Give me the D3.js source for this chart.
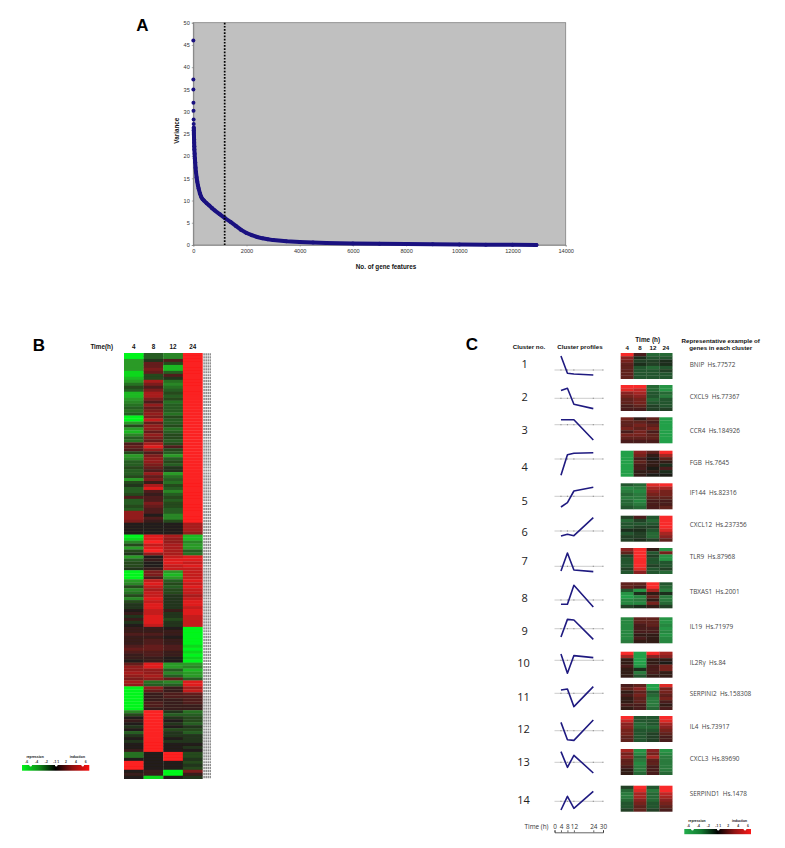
<!DOCTYPE html>
<html><head><meta charset="utf-8">
<style>html,body{margin:0;padding:0;background:#fff}svg{display:block}text{font-family:"Liberation Sans",Arial,sans-serif}</style>
<script src="https://cdn.jsdelivr.net/npm/d3@7/dist/d3.min.js"></script></head>
<body><svg id="c" width="785" height="848"></svg>
<script>
// Panel A
const geneRank=[1,2,3,5,8,12,15,18,20,22,25,28,32,36,40,50,60,70,85,100,125,150,175,200,250,300,350,400,500,600,700,800,1000,1200,1400,1600,1800,2000,2200,2400,2600,2800,3000,3500,4000,4500,5000,6000,7000,8000,9000,10000,11000,12000,12900];
const geneVariance=[46,37.2,35,32,30.2,28.2,27.2,26.4,25.8,25.2,24.5,23.8,23,22.2,21.5,20.5,19.5,18.6,17.4,16.4,15.2,14.2,13.4,12.7,11.6,10.8,10.3,10,9.4,8.9,8.3,7.8,6.9,6,5.2,4.3,3.4,2.7,2.2,1.8,1.5,1.3,1.1,.85,.7,.55,.45,.35,.28,.2,.15,.1,.06,.03,0];
const xTicksA=[0,2000,4000,6000,8000,10000,12000,14000];
const yTicksA=[0,5,10,15,20,25,30,35,40,45,50];
const cutoffRank=1180;
// Panel B
const timeLabels=["4","8","12","24"];
const hour4=[-9,-9,-6,-6,-6,-6,-8,-8,-7,-6,-4,-2,-3,-7,-7,-6,-5,-4,-3,-4,-3,-9,-9,-6,-2,-6,-7,-5,-3,-4,2,3,2,-2,-6,-5,-3,-3,-2,-3,-3,-2,-6,-2,-1,-3,-3,-2,2,-3,-3,-2,-3,
5,5,5,4, 0,0,0,0, -9,-8,-5,-2,-6,-2,-1, -6,-3,-2,-2,-1, -9,-9,-9,
-6,-5,-2,-5,-4,-2,-5,-2,-1,-1,0,1,-1,1,-1,0, 1,1,2,1,1,1,2,3,2,1,1,0, 3,5,5,6,5,4, 6,5,
-9,-9,-9,-9,-9,-9,-9,-9, -5,-2,0,1,0,-1,0,-3,-1,0,-1,0,0,1, -4,-4,0, 9,9,9, 0,1, 0];
const hour8=[-3,-3,-1,3,3,4,3,-2,-2,6,4,2,4,6,6,4,2,5,3,4,5,4,7,3,5,5,3,5,4,3,6,8,5,2,4,5,5,4,3,2,5,3,4,1,6,8,2,1,2,2,4,3,2,
2,0,2,1, 0,0,0,0, 8,8,9,7,8,9,5, 0,1,0,0,1, 4,4,2,
7,8,7,6,7,7,8,7,8,8,7,7,8,8,8,7, 1,1,2,1,2,2,3,3,2,2,1,1, 8,8,5,5,6,5, -4,-3,
5,3,1,1,1,2,2,1, 9,9,9,9,9,9,9,9,9,9,9,9,9,9, 0,0,0, 0,0,0, 1,1, -8];
const hour12=[-5,-5,2,-2,-7,-7,-3,2,-1,-4,-5,-4,-3,-2,-3,-2,-4,-3,-3,-3,-4,-2,-3,-3,-2,-4,-3,-2,-2,-3,-2,2,-2,-3,-6,-3,-2,-3,-1,-1,-6,-4,-3,-4,-2,-3,-5,-3,-2,-3,-2,-2,-3,
-3,-5,-5,-2, 0,0,0,0, 6,5,5,6,6,6,6, 7,8,8,7,7, -6,-7,-6,
-3,-2,-3,-2,-2,-1,-1,-1,-1,-1,1,-1,-1,-2,-1,-1, 0,1,1,0,1,1,2,2,1,1,0,0, -6,-6,-3,-5,-3,3, -5,-3,
1,1,2,2,1,1,1,1, -1,-3,-1,0,-1,0,-2,-1,-1,0,-1,0,0,0, 9,9,9, 0,0,0, -9,-9, 0];
const hour24=[9,9,9,9,9,9,9,9,9,9,9,9,9,9,9,9,9,9,9,9,9,9,9,9,9,9,9,9,9,9,9,9,9,9,9,9,9,9,9,9,9,9,9,9,9,9,9,9,9,9,9,9,9,
9,9,9,9, 6,6,6,5, -7,-7,-5,-6,-6,-3,-4, 8,8,7,8,7, 7,7,7,
8,7,8,7,7,6,7,8,8,7,8,8,7,7,7,7, -9,-9,-9,-9,-9,-9,-8,-9,-8,-9,-8,-9, -6,-5,-7,-6,-6,-3, 8,8,
6,7,3,2,2,2,1,1, -4,-3,-2,-2,-3,-1,-2,-3,-1,-1,-1,0,-1,0, -2,-2,-1, -2,-1,-2, 4,1, -1];
// Panel C
const clusterNumbers=[1,2,3,4,5,6,7,8,9,10,11,12,13,14];
const clusterGenes=["BNIP  Hs.77572","CXCL9  Hs.77367","CCR4  Hs.184926","FGB  Hs.7645","IF144  Hs.82316","CXCL12  Hs.237356","TLR9  Hs.87968","TBXAS1  Hs.2001","IL19  Hs.71979","IL2R\u03b3  Hs.84","SERPINI2  Hs.158308","IL4  Hs.73917","CXCL3  Hs.89690","SERPIND1  Hs.1478"];
const profileTimes=[4,8,12,24];
const axisTimes=[0,4,8,12,24,30];
const clusterProfiles=[[1.4,-.33,-.4,-.5],[.77,1,-.6,-1.03],[.5,.5,.5,-1.53],[-1.63,.43,.57,.63],[-1.07,-.63,.53,.9],[-.5,-.33,-.47,1.33],[-.47,1.33,-.37,-.53],[-.43,-.43,1.47,-.7],[-.83,.93,.87,-1.07],[.63,-1.3,.47,.27],[.33,.43,-1.33,.67],[.83,-.9,-.97,1.07],[1.07,-.5,.7,-1.07],[-.87,.5,-.7,1]];
const clusterHeat=[
[[9,5,4,3,3,3,3,3],[2,-1,-2,-1,-3,-3,-3,-3],[-4,-3,-2,-2,-4,-3,-3,-3],[-4,-3,-1,-1,-3,-2,-3,-3]],
[[9,8,5,4,3,3,2,2],[9,7,6,5,4,4,3,2],[-4,-4,-3,-3,-4,-3,-2,-2],[-7,-7,-4,-5,-3,-3,-3,-2]],
[[4,3,3,4,2,4,3,2],[1,3,4,3,4,4,3,2],[3,2,3,4,2,3,3,2],[-8,-8,-8,-8,-8,-8,-8,-8]],
[[-8,-8,-8,-8,-8,-8,-8,-8],[5,4,2,3,2,2,1,1],[3,1,0,1,1,0,1,0],[9,6,3,1,-1,2,-1,0]],
[[-3,-6,-5,-4,-5,-4,-4,-3],[-4,-5,-6,-5,-5,-6,-5,-4],[8,6,5,4,3,2,2,2],[9,6,4,4,3,2,2,3]],
[[-2,-4,-3,-3,-1,-3,-2,-2],[2,-2,-3,-2,-1,-2,-2,-1],[-3,-4,-3,-2,-3,-4,-4,-2],[9,9,9,9,8,6,5,3]],
[[5,3,-2,-3,-3,-3,-2,-3],[9,9,9,9,9,9,8,5],[1,-3,-2,-3,-3,-2,-3,-3],[-7,4,-7,-7,-3,-3,-2,-4]],
[[3,3,-3,-7,-8,-6,-6,-2],[3,2,-7,-1,-6,-5,-6,-1],[9,9,6,1,3,1,4,1],[-3,-4,-5,-1,-5,-5,-4,-2]],
[[-6,-6,-6,-6,-6,-6,-6,-5],[3,3,2,2,2,1,2,1],[3,3,3,2,2,1,1,1],[-7,-7,-6,-7,-6,-7,-6,-6]],
[[9,6,1,1,2,1,1,1],[-8,-8,-8,-8,-7,-1,-5,-3],[9,5,1,1,2,2,2,1],[6,5,1,0,4,4,1,1]],
[[2,3,1,2,1,1,2,1],[3,5,3,4,3,3,2,2],[-8,-8,-3,-4,-5,-5,-5,-4],[8,4,4,3,4,2,1,2]],
[[9,7,5,5,4,4,3,3],[-3,-3,-4,-4,-3,-3,-3,-3],[-3,-3,-3,-4,-3,-2,-2,-2],[9,8,6,5,4,3,2,2]],
[[6,4,5,3,3,2,1,1],[-7,-6,-4,-5,-6,-5,-5,-4],[5,4,6,3,3,2,2,2],[-7,-6,-5,-5,-5,-5,-5,-4]],
[[-2,-4,-5,-5,-4,-3,-3,-2],[9,8,6,6,5,4,3,3],[-3,-5,-4,-4,-4,-3,-3,-2],[9,9,7,6,5,4,3,2]]];
const legendTicks=[-6,-4,-2,0,2,4,6];
const legendTickLabels=["-6","-4","-2","-1 1","2","4","6"];

// Layout
const numberY=[363,396,429,466,500,531,560,597,630,662,696,728,761,799];
const baselineY=[370,398.3,424.7,459,496.3,531,566.3,600,628.7,660.3,693.3,730.7,762.3,801.3];
const heatTop=[353,385,417.3,450.7,483.3,515.7,548,582.3,617.3,651.7,684,716,749,785.7];
const labelY=[364.3,396.3,430,462.7,492.3,524.3,556.7,591.7,626.3,662.3,693.3,726,758.3,793.3];

const svg=d3.select("#c");
const defs=svg.append("defs");
defs.append("filter").attr("id","soft").attr("x","-5%").attr("y","-5%").attr("width","110%").attr("height","110%")
  .append("feGaussianBlur").attr("stdDeviation",0.5);
const txt=(x,y,s,size,opt={})=>svg.append("text").attr("x",x).attr("y",y).attr("font-size",size)
  .attr("text-anchor",opt.anchor||"middle").attr("dominant-baseline","central")
  .attr("font-weight",opt.bold?"bold":"normal").attr("fill",opt.fill||"#111")
  .style("font-family",opt.font||null).attr("transform",opt.rot?`rotate(${opt.rot} ${x} ${y})`:null).text(s);

txt(142.5,25,"A",17,{bold:true,fill:"#000"});
txt(39,345,"B",17,{bold:true,fill:"#000"});
txt(472,344,"C",17,{bold:true,fill:"#000"});

// ---- A
const xA=d3.scaleLinear().domain([0,14000]).range([193.3,565.7]);
const yA=d3.scaleLinear().domain([0,50]).range([245,22.7]);
svg.append("rect").attr("x",xA(0)).attr("y",yA(50)).attr("width",xA(14000)-xA(0)).attr("height",yA(0)-yA(50))
  .attr("fill","#c0c0c0").attr("stroke","#808080").attr("stroke-width",0.8);
const gy=svg.append("g").attr("transform",`translate(${xA(0)},0)`).call(d3.axisLeft(yA).tickValues(yTicksA).tickSize(1.5).tickPadding(2));
const gx=svg.append("g").attr("transform",`translate(0,${yA(0)})`).call(d3.axisBottom(xA).tickValues(xTicksA).tickSize(1.5).tickPadding(3).tickFormat(d3.format("d")));
[gx,gy].forEach(g=>{g.selectAll("text").attr("font-size",5.6).attr("fill","#333");g.selectAll("line,path").attr("stroke","#777").attr("stroke-width",.6);g.attr("font-family",null)});
const pts=geneRank.map((r,i)=>[r,geneVariance[i]]);
svg.append("path").attr("d",d3.line().x(d=>xA(d[0])).y(d=>yA(d[1]))(pts.filter(d=>d[0]>=18)))
  .attr("fill","none").attr("stroke","#1a1180").attr("stroke-width",4).attr("stroke-linejoin","round").attr("stroke-linecap","round");
svg.selectAll("circle.p").data(pts).join("circle").attr("class","p").attr("cx",d=>xA(d[0])).attr("cy",d=>yA(d[1])).attr("r",2).attr("fill","#1a1180");
svg.append("line").attr("x1",xA(cutoffRank)).attr("x2",xA(cutoffRank)).attr("y1",yA(50)).attr("y2",yA(0))
  .attr("stroke","#000").attr("stroke-width",1.7).attr("stroke-dasharray","1.7 1.5");
txt(386,266,"No. of gene features",6.3,{bold:true});
txt(176.7,130.7,"Variance",6.3,{bold:true,rot:-90});

// ---- B
const colsB=[hour4,hour8,hour12,hour24];
const bandCol=d3.scaleBand().domain(timeLabels).range([124,202.5]);
const bandRow=d3.scaleBand().domain(d3.range(hour4.length)).range([353,778.7]);
const colorB=d3.scaleLinear().domain([-9,-6,0,6,9]).range(["#00f51a","#2a9a28","#221f1a","#a81e1c","#fb2020"]);
const gB=svg.append("g").attr("filter","url(#soft)");
colsB.forEach((col,ci)=>gB.selectAll(null).data(col).join("rect")
  .attr("x",bandCol(timeLabels[ci])).attr("y",(d,i)=>bandRow(i)).attr("width",bandCol.bandwidth()+.2).attr("height",bandRow.bandwidth()+.3)
  .attr("fill",d=>colorB(d)));
svg.append("g").selectAll("line").data(d3.range(hour4.length)).join("line")
  .attr("x1",203.3).attr("x2",211).attr("y1",i=>bandRow(i)+1.4).attr("y2",i=>bandRow(i)+1.4)
  .attr("stroke","#8f8f8f").attr("stroke-width",2.2).attr("stroke-dasharray","1.6 .5");
txt(101.7,346,"Time(h)",6.3,{bold:true});
timeLabels.forEach(t=>txt(bandCol(t)+bandCol.bandwidth()/2,346.3,t,6.3,{bold:true}));

// ---- C
txt(529,346.7,"Cluster no.",6.2,{bold:true});
txt(580,346.7,"Cluster profiles",6.2,{bold:true});
txt(647.7,339.3,"Time (h)",6.4,{bold:true});
const bandColC=d3.scaleBand().domain(timeLabels).range([620.7,672.3]);
timeLabels.forEach(t=>txt(bandColC(t)+bandColC.bandwidth()/2,347,t,6.2,{bold:true}));
txt(720.7,340,"Representative example of",6.2,{bold:true});
txt(720.7,347.3,"genes in each cluster",6.2,{bold:true});

const xT=d3.scaleLinear().domain([0,30]).range([554.5,603]);
const colorC=d3.scaleLinear().domain([-9,-5,0,5,9]).range(["#22ad4c","#2a7a3c","#1c1b16","#8a2420","#f82a2a"]);
const heatH=25.8;
const rowC=d3.scaleBand().domain(d3.range(8)).range([0,heatH]);
const gC=svg.append("g").attr("filter","url(#soft)");
const OS='"Open Sans",sans-serif';
clusterNumbers.forEach((n,k)=>{
  txt(n>9?523.5:524.7,numberY[k],n,11,{font:OS,fill:"#222"});
  txt(689.7,labelY[k],clusterGenes[k],6.4,{anchor:"start",font:OS,fill:"#444"}).style("white-space","pre");
  const y=d3.scaleLinear().domain([-2,2]).range([baselineY[k]+20,baselineY[k]-20]);
  svg.append("line").attr("x1",xT(0)).attr("x2",xT(30)).attr("y1",y(0)).attr("y2",y(0)).attr("stroke","#aaa").attr("stroke-width",.6);
  svg.append("g").selectAll("line").data(axisTimes.slice(1)).join("line").attr("x1",d=>xT(d)).attr("x2",d=>xT(d)).attr("y1",y(0)-.6).attr("y2",y(0)+.6).attr("stroke","#555").attr("stroke-width",.6);
  svg.append("path").attr("d",d3.line().x((d,i)=>xT(profileTimes[i])).y(d=>y(d))(clusterProfiles[k]))
    .attr("fill","none").attr("stroke","#1f1a80").attr("stroke-width",1.6).attr("stroke-linejoin","round");
  clusterHeat[k].forEach((col,ci)=>gC.selectAll(null).data(col).join("rect")
    .attr("x",bandColC(timeLabels[ci])).attr("y",(d,i)=>heatTop[k]+rowC(i)).attr("width",bandColC.bandwidth()+.2).attr("height",rowC.bandwidth()+.2)
    .attr("fill",d=>colorC(d)));
});
txt(536.5,826,"Time (h)",6.4,{font:OS,fill:"#333"});
const gT=svg.append("g").attr("transform","translate(0,832.3)").call(d3.axisTop(xT).tickValues(axisTimes).tickSize(2).tickSizeOuter(2).tickPadding(1.5));
gT.selectAll("text").attr("font-size",6.4).attr("fill","#333").style("font-family",OS);
gT.selectAll("line,path").attr("stroke","#222").attr("stroke-width",.7);

// ---- Legends
function legend(id,x0,x1,yTop,h,stops,tickX0,tickX1){
  const g=defs.append("linearGradient").attr("id",id);
  stops.forEach((c,i)=>g.append("stop").attr("offset",i/(stops.length-1)).attr("stop-color",c));
  svg.append("rect").attr("x",x0).attr("y",yTop).attr("width",x1-x0).attr("height",h).attr("fill",`url(#${id})`);
  const s=d3.scaleLinear().domain([-6,6]).range([tickX0,tickX1]);
  svg.selectAll(null).data([-5.2,0,5.4]).join("circle").attr("cx",d=>s(d)).attr("cy",yTop+.2).attr("r",1.2).attr("fill","#fff");
  legendTicks.forEach((t,i)=>txt(s(t),yTop-3.2,legendTickLabels[i],3.4,{bold:true,fill:"#333"}));
  txt(s(-4.3),yTop-8.4,"repression",3.4,{bold:true,fill:"#111"});
  txt(s(4.3),yTop-8.4,"induction",3.4,{bold:true,fill:"#111"});
}
legend("gB",22,89.3,765,5.7,["#00f51a","#0f8f18","#000","#8f1010","#fb1010"],26.7,85.7);
legend("gC",684.3,751,829,5.2,["#22ad4c","#137a30","#000","#901414","#fb1818"],688.5,748);
</script></body></html>
